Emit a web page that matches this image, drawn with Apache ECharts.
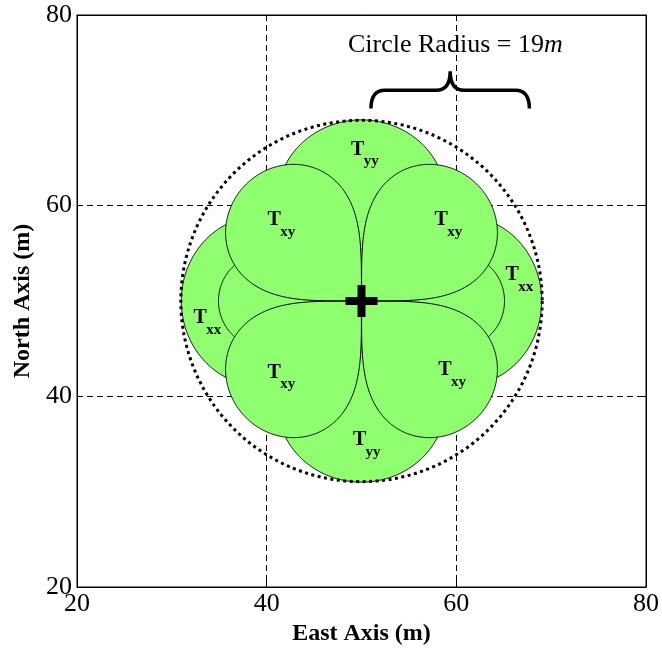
<!DOCTYPE html>
<html>
<head>
<meta charset="utf-8">
<script src="https://cdn.jsdelivr.net/npm/echarts@6/dist/echarts.min.js"></script>
<style>
html,body{margin:0;padding:0;background:#fff;}
#chart{width:662px;height:651px;}
</style>
</head>
<body>
<div id="chart"></div>
<script>
// ---- data ----
const xTicks = [20, 40, 60, 80];
const yTicks = [20, 40, 60, 80];
const sensorEast = [50];
const sensorNorth = [50];
const circleRadius = [19];          // m
const detectionRange = [19];        // m, range along the main lobe axis
const components = ['Txx', 'Tyy', 'Txy'];   // drawing order
const labelEast  = [49.6, 40.8, 58.4, 65.9, 33.0, 40.8, 58.8, 49.8];
const labelNorth = [65.9, 58.5, 58.5, 52.7, 48.2, 42.5, 42.8, 35.4];
const labelSub   = ['yy', 'xy', 'xy', 'xx', 'xx', 'xy', 'xy', 'yy'];
// brace annotation (data coordinates)
const braceEast  = [51.0, 59.35, 67.7];   // left end, tip, right end
const braceNorth = [70.2, 72.1, 74.1];    // ends, bar, tip

const FONT = '"Liberation Serif", "Times New Roman", serif';
const GREEN = '#8fff6f';

function gain(comp, th) {
  const c = Math.cos(th), s = Math.sin(th);
  if (comp === 'Txx') return 3 * c * c - 1;
  if (comp === 'Tyy') return 3 * s * s - 1;
  return 3 * s * c;
}

const chart = echarts.init(document.getElementById('chart'), null, {renderer: 'canvas'});

const axisCommon = {
  type: 'value', min: 20, max: 80, interval: 20,
  axisLine: {show: true, onZero: false, lineStyle: {color: '#000', width: 1}},
  axisTick: {show: true, inside: true, length: 6, lineStyle: {color: '#000'}},
  splitLine: {show: true, lineStyle: {color: '#000', type: [6, 4], width: 1}},
  axisLabel: {color: '#000', fontSize: 26, fontFamily: FONT}
};

const option = {
  animation: false,
  backgroundColor: '#fff',
  grid: {left: 77, right: 14, top: 15, bottom: 64, show: true, borderColor: '#000', borderWidth: 1, backgroundColor: '#fff'},
  xAxis: [
    Object.assign({}, axisCommon, {
      position: 'bottom',
      name: 'East Axis (m)', nameLocation: 'middle', nameGap: 33,
      nameTextStyle: {color: '#000', fontSize: 24, fontWeight: 'bold', fontFamily: FONT},
      axisLabel: Object.assign({}, axisCommon.axisLabel, {margin: 4, formatter: v => xTicks.includes(v) ? String(v) : ''})
    }),
    Object.assign({}, axisCommon, {position: 'top', axisLabel: {show: false}, splitLine: {show: false}})
  ],
  yAxis: [
    Object.assign({}, axisCommon, {
      position: 'left',
      name: 'North Axis (m)', nameLocation: 'middle', nameGap: 35,
      nameTextStyle: {color: '#000', fontSize: 24, fontWeight: 'bold', fontFamily: FONT},
      axisLabel: Object.assign({}, axisCommon.axisLabel, {margin: 5, formatter: v => yTicks.includes(v) ? String(v) : ''})
    }),
    Object.assign({}, axisCommon, {position: 'right', axisLabel: {show: false}, splitLine: {show: false}})
  ],
  graphic: [{
    type: 'text', left: 348, top: 32, z: 100,
    style: {
      text: '{a|Circle Radius = 19}{b|m}',
      rich: {
        a: {fontSize: 26, fontFamily: FONT, fill: '#000'},
        b: {fontSize: 26, fontFamily: FONT, fontStyle: 'italic', fill: '#000'}
      }
    }
  }],
  series: [
    {
      type: 'custom', name: 'lobes', xAxisIndex: 0, yAxisIndex: 0, clip: false, z: 2,
      data: components.map((c, i) => [sensorEast[0], sensorNorth[0], i]),
      renderItem: function (params, api) {
        const e0 = api.value(0), n0 = api.value(1), idx = api.value(2);
        const comp = components[idx];
        const pts = [];
        const N = 1440;
        for (let k = 0; k < N; k++) {
          const th = 2 * Math.PI * k / N;
          const r = detectionRange[0] * Math.cbrt(Math.abs(gain(comp, th)) / 2);
          pts.push(api.coord([e0 + r * Math.cos(th), n0 + r * Math.sin(th)]));
        }
        return {
          type: 'polygon', z2: idx,
          shape: {points: pts},
          style: {fill: GREEN, stroke: '#000', lineWidth: 1}
        };
      }
    },
    {
      type: 'custom', name: 'circle', clip: false, z: 3,
      data: [[sensorEast[0], sensorNorth[0], circleRadius[0]]],
      renderItem: function (params, api) {
        const c = api.coord([api.value(0), api.value(1)]);
        const p = api.coord([api.value(0) + api.value(2), api.value(1)]);
        const q = api.coord([api.value(0), api.value(1) + api.value(2)]);
        const r = ((p[0] - c[0]) + (c[1] - q[1])) / 2;
        return {
          type: 'circle', shape: {cx: c[0], cy: c[1], r: r},
          style: {fill: null, stroke: '#000', lineWidth: 3, lineDash: [3, 3.5]}
        };
      }
    },
    {
      type: 'custom', name: 'sensor', clip: false, z: 4,
      data: [[sensorEast[0], sensorNorth[0]]],
      renderItem: function (params, api) {
        const c = api.coord([api.value(0), api.value(1)]);
        const h = 16;
        return {
          type: 'group', children: [
            {type: 'line', shape: {x1: c[0] - h, y1: c[1], x2: c[0] + h, y2: c[1]}, style: {stroke: '#000', lineWidth: 8}},
            {type: 'line', shape: {x1: c[0], y1: c[1] - h, x2: c[0], y2: c[1] + h}, style: {stroke: '#000', lineWidth: 8}}
          ]
        };
      }
    },
    {
      type: 'custom', name: 'labels', clip: false, z: 5,
      data: labelEast.map((e, i) => [e, labelNorth[i], i]),
      renderItem: function (params, api) {
        const c = api.coord([api.value(0), api.value(1)]);
        const sub = labelSub[api.value(2)];
        return {
          type: 'group', children: [
            {type: 'text', x: c[0], y: c[1], style: {text: 'T', fontSize: 20, fontWeight: 'bold', fontFamily: FONT, fill: '#000', align: 'center', verticalAlign: 'middle'}},
            {type: 'text', x: c[0] + 6, y: c[1] + 12, style: {text: sub, fontSize: 15, fontWeight: 'bold', fontFamily: FONT, fill: '#000', align: 'left', verticalAlign: 'middle'}}
          ]
        };
      }
    },
    {
      type: 'custom', name: 'brace', clip: false, z: 6,
      data: [[braceEast[0], braceNorth[0]]],
      renderItem: function (params, api) {
        const L = api.coord([braceEast[0], braceNorth[0]]);
        const B = api.coord([braceEast[1], braceNorth[1]]);
        const T = api.coord([braceEast[1], braceNorth[2]]);
        const R = api.coord([braceEast[2], braceNorth[0]]);
        const yb = L[1], yh = B[1], xm = B[0], yt = T[1];
        const xl = L[0], xr = R[0], r = 14;
        const d = 'M' + xl + ' ' + yb +
          ' Q' + xl + ' ' + yh + ' ' + (xl + r) + ' ' + yh +
          ' L' + (xm - r) + ' ' + yh +
          ' Q' + xm + ' ' + yh + ' ' + xm + ' ' + yt +
          ' Q' + xm + ' ' + yh + ' ' + (xm + r) + ' ' + yh +
          ' L' + (xr - r) + ' ' + yh +
          ' Q' + xr + ' ' + yh + ' ' + xr + ' ' + yb;
        return {
          type: 'path', shape: {pathData: d},
          style: {fill: null, stroke: '#000', lineWidth: 3.5}
        };
      }
    }
  ]
};
chart.setOption(option);
</script>
</body>
</html>
